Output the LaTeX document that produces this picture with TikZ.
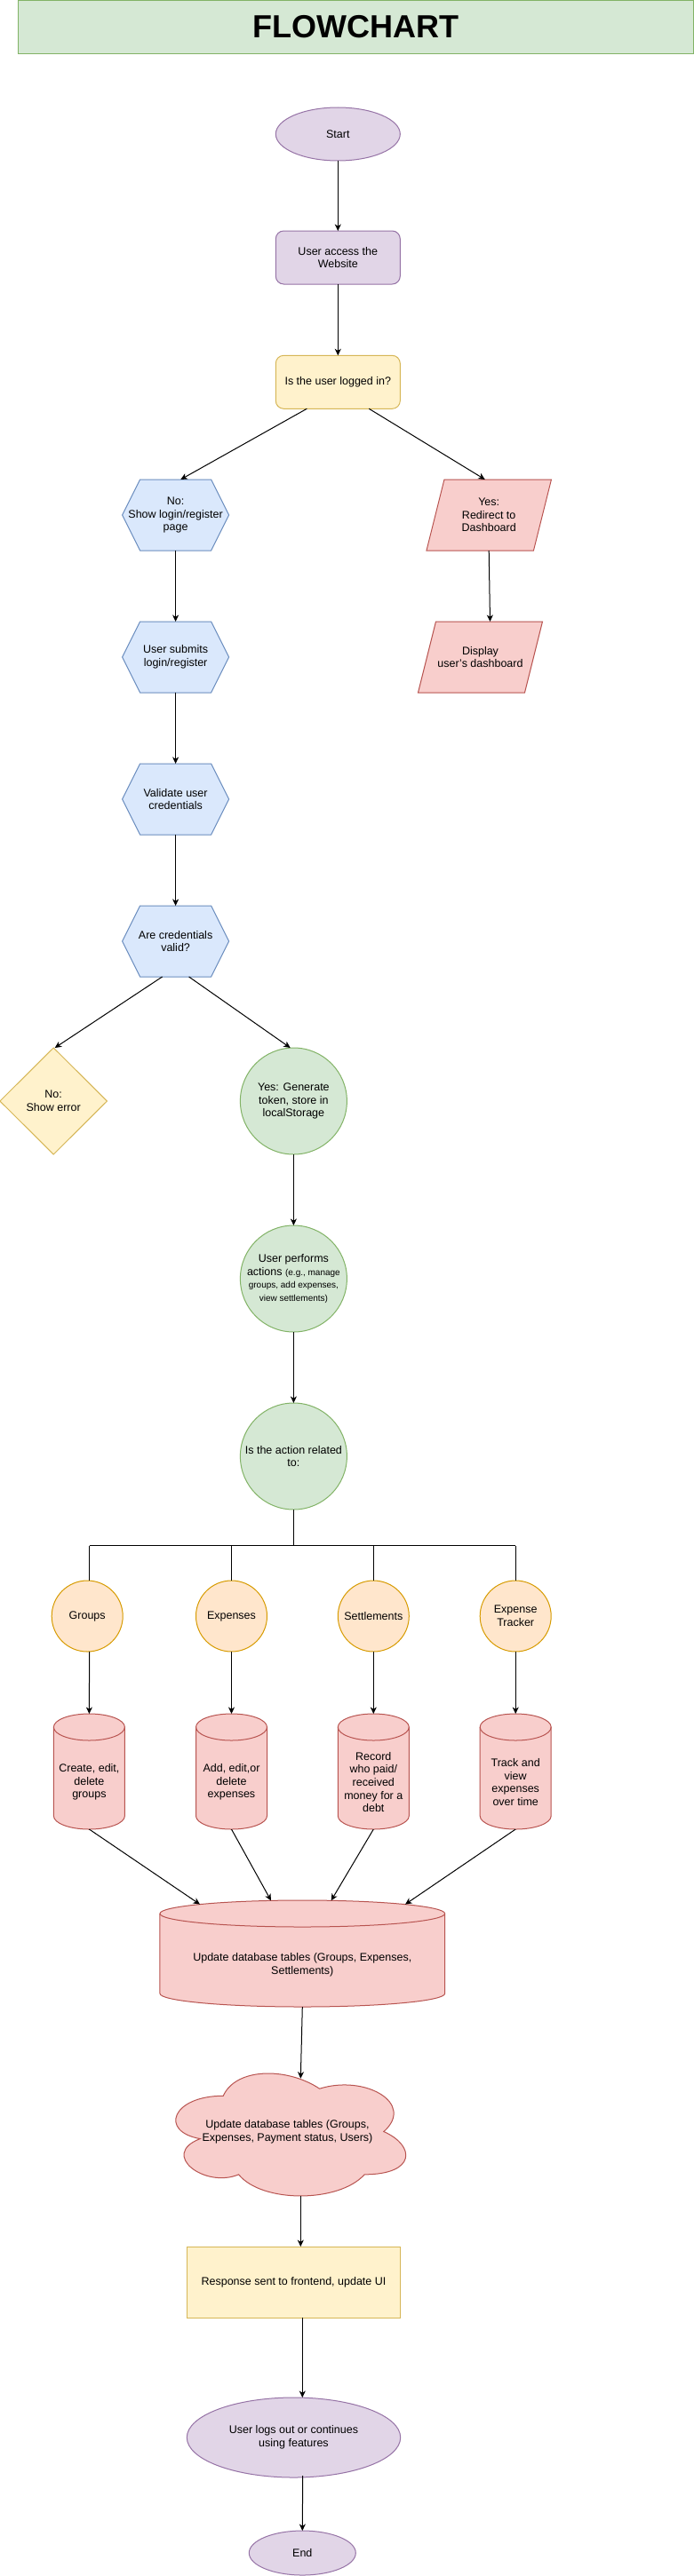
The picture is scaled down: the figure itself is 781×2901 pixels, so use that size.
\documentclass[tikz,border=0pt]{standalone}
\usepackage{fontspec}
\setmainfont{Liberation Sans}
\usetikzlibrary{arrows.meta,calc,backgrounds}
\definecolor{purfill}{HTML}{E1D5E7}\definecolor{purline}{HTML}{9673A6}
\definecolor{yelfill}{HTML}{FFF2CC}\definecolor{yelline}{HTML}{D6B656}
\definecolor{blufill}{HTML}{DAE8FC}\definecolor{bluline}{HTML}{6C8EBF}
\definecolor{redfill}{HTML}{F8CECC}\definecolor{redline}{HTML}{B85450}
\definecolor{grnfill}{HTML}{D5E8D4}\definecolor{grnline}{HTML}{82B366}
\definecolor{orafill}{HTML}{FFE6CC}\definecolor{oraline}{HTML}{D79B00}
\newcommand\smalltxt{\fontsize{10}{14.7}\selectfont}
\tikzset{
  box/.style={inner sep=0pt, outer sep=0pt, align=center, text=black,
    font=\fontsize{12.5}{14.7}\selectfont, shape=rectangle},
  lbl/.style={inner sep=0pt, outer sep=0pt, align=center, text=black,
    font=\fontsize{12.5}{14.7}\selectfont},
  purshape/.style={fill=purfill, draw=purline, line width=1pt},
  yelshape/.style={fill=yelfill, draw=yelline, line width=1pt},
  blushape/.style={fill=blufill, draw=bluline, line width=1pt},
  redshape/.style={fill=redfill, draw=redline, line width=1pt},
  grnshape/.style={fill=grnfill, draw=grnline, line width=1pt},
  orashape/.style={fill=orafill, draw=oraline, line width=1pt},
  flow/.style={-{Stealth[length=7.5pt,width=7pt,inset=2.2pt]}, line width=1pt, draw=black},
  plain/.style={line width=1pt, draw=black},
}
\newcommand\ShEll[2]{\path[#2] let \p1=($(#1.north east)-(#1.south west)$) in (#1.center) ellipse [x radius=0.5*\x1, y radius=0.5*\y1];}
\newcommand\ShHex[2]{\path[#2] ([xshift=20pt]#1.north west) -- ([xshift=-20pt]#1.north east) -- (#1.east) -- ([xshift=-20pt]#1.south east) -- ([xshift=20pt]#1.south west) -- (#1.west) -- cycle;}
\newcommand\ShPar[2]{\path[#2] ([xshift=20pt]#1.north west) -- (#1.north east) -- ([xshift=-20pt]#1.south east) -- (#1.south west) -- cycle;}
\newcommand\ShRect[2]{\path[#2] (#1.north west) rectangle (#1.south east);}
\newcommand\ShDia[2]{\path[#2] (#1.north) -- (#1.east) -- (#1.south) -- (#1.west) -- cycle;}
\newcommand\ShCyl[2]{%
  \path[#2] let \p1=($(#1.north east)-(#1.north west)$) in
    ([yshift=-15pt]#1.north west) -- ([yshift=15pt]#1.south west)
    arc[start angle=180,end angle=360,x radius=0.5*\x1,y radius=15pt]
    -- ([yshift=-15pt]#1.north east)
    arc[start angle=0,end angle=180,x radius=0.5*\x1,y radius=15pt] -- cycle;
  \path[#2, fill=none] let \p1=($(#1.north east)-(#1.north west)$) in
    ([yshift=-15pt]#1.north west) arc[start angle=180,end angle=360,x radius=0.5*\x1,y radius=15pt];}
\begin{document}
\begin{tikzpicture}[x=1pt, y=-1pt]
\useasboundingbox (0,0) rectangle (781,2901);

% ---------- nodes ----------
\node[box, minimum width=760.3pt, minimum height=60pt, font=\fontsize{36}{40}\selectfont\bfseries] (title) at (400.2,30.5) {FLOWCHART};

\node[box, minimum width=140pt, minimum height=60pt] (start) at (380.3,151) {Start};
\node[box, minimum width=140pt, minimum height=60pt] (access) at (380.3,290) {User access the\\Website};
\node[box, minimum width=140pt, minimum height=60pt] (logged) at (380.3,430.3) {Is the user logged in?};

\node[box, minimum width=120pt, minimum height=80pt] (no) at (197.6,580) {No:\\Show login/register\\page};
\node[box, minimum width=140.5pt, minimum height=80pt] (yes) at (550.2,580) {Yes:\\Redirect to\\Dashboard};
\node[box, minimum width=140pt, minimum height=80pt] (display) at (540.5,740) {Display\\user's dashboard};
\node[box, minimum width=120pt, minimum height=80pt] (submit) at (197.6,740) {User submits\\login/register};
\node[box, minimum width=120pt, minimum height=80pt] (validate) at (197.6,900) {Validate user\\credentials};
\node[box, minimum width=120pt, minimum height=80pt] (valid) at (197.6,1060) {Are credentials\\valid?};

\node[box, minimum width=120.5pt, minimum height=120pt] (showerr) at (60.2,1240) {No:\\Show error};
\node[box, minimum width=120pt, minimum height=120pt] (token) at (330.4,1240) {Yes: Generate\\token, store in\\localStorage};
\node[box, minimum width=120pt, minimum height=120pt] (performs) at (330.4,1440) {User performs\\actions {\smalltxt (e.g., manage}\\{\smalltxt groups, add expenses,}\\{\smalltxt view settlements)}};
\node[box, minimum width=120pt, minimum height=120pt] (related) at (330.4,1640) {Is the action related\\to:};

\coordinate (b1) at (100.6,1740.7);
\coordinate (b2) at (260.5,1740.7);
\coordinate (b3) at (420.3,1740.7);
\coordinate (b4) at (580.2,1740.7);

\node[box, minimum width=80pt, minimum height=80pt] (groups) at (98.2,1820) {Groups};
\node[box, minimum width=80pt, minimum height=80pt] (expenses) at (260.5,1820) {Expenses};
\node[box, minimum width=80pt, minimum height=80pt] (settle) at (420.3,1820) {Settlements};
\node[box, minimum width=80pt, minimum height=80pt] (tracker) at (580.2,1820) {Expense\\Tracker};

\node[box, minimum width=80pt, minimum height=130pt, label={[lbl, yshift=-12pt]center:{Create, edit,\\delete\\groups}}] (c1) at (100.4,1995) {};
\node[box, minimum width=80pt, minimum height=130pt, label={[lbl, yshift=-12pt]center:{Add, edit,or\\delete\\expenses}}] (c2) at (260.5,1995) {};
\node[box, minimum width=80pt, minimum height=130pt, label={[lbl, yshift=-12pt]center:{Record\\who paid/\\received\\money for a\\debt}}] (c3) at (420.3,1995) {};
\node[box, minimum width=80pt, minimum height=130pt, label={[lbl, yshift=-12pt]center:{Track and\\view\\expenses\\over time}}] (c4) at (580.2,1995) {};

\node[box, minimum width=320.7pt, minimum height=120pt, label={[lbl, yshift=-13pt]center:{Update database tables (Groups, Expenses,\\Settlements)}}] (db) at (340.3,2200) {};

\node[box, minimum width=289pt, minimum height=161pt] (cloud) at (323.5,2400.5) {Update database tables (Groups,\\Expenses, Payment status, Users)};

\node[box, minimum width=240.4pt, minimum height=80pt] (resp) at (330.5,2570) {Response sent to frontend, update UI};
\node[box, minimum width=240.4pt, minimum height=90pt] (logout) at (330.5,2745) {User logs out or continues\\using features};
\node[box, minimum width=120pt, minimum height=50pt] (end) at (340.3,2875) {End};

% ---------- shapes ----------
\begin{scope}[on background layer]
  \fill[white] (0,0) rectangle (781,2901);
  \ShRect{title}{grnshape}
  \ShEll{start}{purshape}
  \path[purshape, rounded corners=9pt] (access.north west) rectangle (access.south east);
  \path[yelshape, rounded corners=9pt] (logged.north west) rectangle (logged.south east);
  \ShHex{no}{blushape}
  \ShPar{yes}{redshape}
  \ShPar{display}{redshape}
  \ShHex{submit}{blushape}
  \ShHex{validate}{blushape}
  \ShHex{valid}{blushape}
  \ShDia{showerr}{yelshape}
  \ShEll{token}{grnshape}
  \ShEll{performs}{grnshape}
  \ShEll{related}{grnshape}
  \ShEll{groups}{orashape}
  \ShEll{expenses}{orashape}
  \ShEll{settle}{orashape}
  \ShEll{tracker}{orashape}
  \ShCyl{c1}{redshape}
  \ShCyl{c2}{redshape}
  \ShCyl{c3}{redshape}
  \ShCyl{c4}{redshape}
  \ShCyl{db}{redshape}
  \begin{scope}[shift={(179,2320)}, x=289pt, y=-161pt]
    \path[redshape] (0.25,0.25) .. controls (0.05,0.25) and (0,0.5) .. (0.16,0.55)
      .. controls (0,0.66) and (0.18,0.9) .. (0.31,0.8)
      .. controls (0.4,1) and (0.7,1) .. (0.8,0.8)
      .. controls (1,0.8) and (1,0.6) .. (0.875,0.5)
      .. controls (1,0.3) and (0.8,0.1) .. (0.625,0.2)
      .. controls (0.5,0.05) and (0.3,0.05) .. (0.25,0.25) -- cycle;
  \end{scope}
  \ShRect{resp}{yelshape}
  \ShEll{logout}{purshape}
  \ShEll{end}{purshape}
\end{scope}

% ---------- connectors ----------
\draw[flow] (start.south) -- (access.north);
\draw[flow] (access.south) -- (logged.north);
\draw[flow] ([xshift=-35pt]logged.south) -- ([xshift=5.7pt]no.north);
\draw[flow] ([xshift=35pt]logged.south) -- ([xshift=-4.4pt]yes.north);
\draw[flow] (yes.south) -- ([xshift=11pt]display.north);
\draw[flow] (no.south) -- (submit.north);
\draw[flow] (submit.south) -- (validate.north);
\draw[flow] (validate.south) -- (valid.north);
\draw[flow] ([xshift=-15pt]valid.south) -- ([xshift=1.5pt]showerr.north);
\draw[flow] ([xshift=15pt]valid.south) -- ([xshift=-3.7pt]token.north);
\draw[flow] (token.south) -- (performs.north);
\draw[flow] (performs.south) -- (related.north);
\draw[plain] (related.south) -- (related.south |- b1);
\draw[plain] (b1) -- (b4);
\draw[plain] (b1) -- (b1 |- groups.north);
\draw[plain] (b2) -- (b2 |- expenses.north);
\draw[plain] (b3) -- (b3 |- settle.north);
\draw[plain] (b4) -- (b4 |- tracker.north);
\draw[flow] (b1 |- groups.south) -- (c1.north);
\draw[flow] (expenses.south) -- (c2.north);
\draw[flow] (settle.south) -- (c3.north);
\draw[flow] (tracker.south) -- (c4.north);
\draw[flow] (c1.south) -- ([shift={(-115.3,4.6)}]db.north);
\draw[flow] (c2.south) -- ([shift={(-35.3,0.4)}]db.north);
\draw[flow] (c3.south) -- ([shift={(32.4,0.3)}]db.north);
\draw[flow] (c4.south) -- ([shift={(115.7,4.6)}]db.north);
\draw[flow] (db.south) -- ([shift={(14.8,20.7)}]cloud.north);
\draw[flow] ([shift={(14.8,-8)}]cloud.south) -- ([xshift=7.8pt]resp.north);
\draw[flow] ([xshift=9.8pt]resp.south) -- ([xshift=9.8pt]logout.north);
\draw[flow] ([shift={(10.2,-2)}]logout.south) -- (end.north);
\end{tikzpicture}
\end{document}
